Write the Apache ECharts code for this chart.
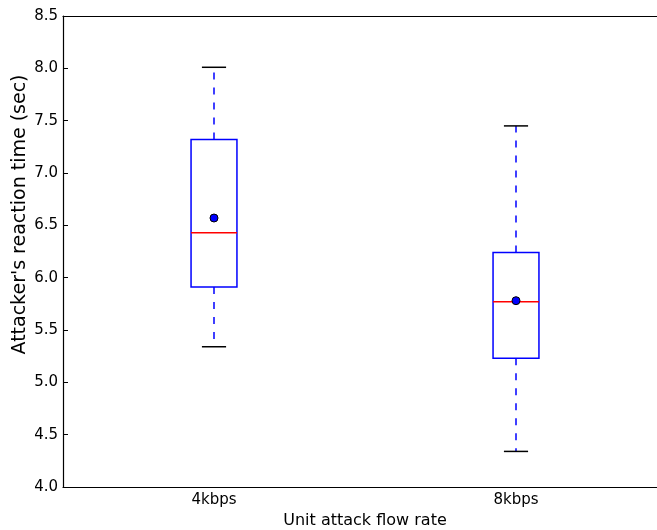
<!DOCTYPE html>
<html>
<head>
<meta charset="utf-8">
<script src="https://cdn.jsdelivr.net/npm/echarts@6/dist/echarts.min.js"></script>
<style>
  html, body { margin: 0; padding: 0; background: #fff; }
  #main { width: 657px; height: 530px; }
</style>
</head>
<body>
<div id="main"></div>
<script>
// box plot data
const categories = ['4kbps', '8kbps'];
const whiskerLow = [5.34, 4.34];
const q1 = [5.91, 5.23];
const median = [6.43, 5.77];
const q3 = [7.32, 6.24];
const whiskerHigh = [8.01, 7.45];
const means = [6.57, 5.78];
const yTicks = [4.0, 4.5, 5.0, 5.5, 6.0, 6.5, 7.0, 7.5, 8.0, 8.5];

const boxData = categories.map((c, i) => [i, whiskerLow[i], q1[i], median[i], q3[i], whiskerHigh[i]]);
const meanData = categories.map((c, i) => [i, means[i]]);

const font = 'DejaVu Sans';

function renderBox(params, api) {
	const x = api.value(0);
	const band = api.size([1, 0])[0];
	const bw = band * 0.076;
	const cw = band * 0.04;
	const pLow = api.coord([x, api.value(1)]);
	const pQ1 = api.coord([x, api.value(2)]);
	const pMed = api.coord([x, api.value(3)]);
	const pQ3 = api.coord([x, api.value(4)]);
	const pHigh = api.coord([x, api.value(5)]);
	const cx = pMed[0];
	const blue = '#0000ff';
	const dash = { stroke: blue, lineWidth: 1.5, lineDash: [7, 8] };
	return {
		type: 'group',
		children: [
			{ type: 'line', shape: { x1: cx, y1: pQ3[1], x2: cx, y2: pHigh[1] }, style: dash },
			{ type: 'line', shape: { x1: cx, y1: pQ1[1], x2: cx, y2: pLow[1] }, style: dash },
			{ type: 'line', shape: { x1: cx - cw, y1: pHigh[1], x2: cx + cw, y2: pHigh[1] }, style: { stroke: '#000', lineWidth: 1.5 } },
			{ type: 'line', shape: { x1: cx - cw, y1: pLow[1], x2: cx + cw, y2: pLow[1] }, style: { stroke: '#000', lineWidth: 1.5 } },
			{ type: 'rect', shape: { x: cx - bw, y: pQ3[1], width: bw * 2, height: pQ1[1] - pQ3[1] }, style: { fill: 'none', stroke: blue, lineWidth: 1.5 } },
			{ type: 'line', shape: { x1: cx - bw, y1: pMed[1], x2: cx + bw, y2: pMed[1] }, style: { stroke: '#ff0000', lineWidth: 1.5 } }
		]
	};
}

const myCharts = echarts.init(document.querySelector('#main'));

const option = {
	animation: false,
	grid: { left: 63, top: 16, width: 604, height: 471, outerBoundsMode: 'none', containLabel: false },
	xAxis: [
		{
			type: 'category',
			data: categories,
			boundaryGap: true,
			name: 'Unit attack flow rate',
			nameLocation: 'middle',
			nameGap: 26,
			nameTextStyle: { fontFamily: font, fontSize: 16, color: '#000' },
			axisLine: { lineStyle: { color: '#000', width: 1.2 } },
			axisTick: { inside: true, length: 5, alignWithLabel: true, lineStyle: { color: '#000' } },
			axisLabel: { fontFamily: font, fontSize: 15, color: '#000', margin: 6 },
			splitLine: { show: false }
		},
		{
			type: 'category',
			data: categories,
			position: 'top',
			boundaryGap: true,
			axisLine: { lineStyle: { color: '#000', width: 1.2 } },
			axisTick: { inside: true, length: 5, alignWithLabel: true, lineStyle: { color: '#000' } },
			axisLabel: { show: false },
			splitLine: { show: false }
		}
	],
	yAxis: {
		type: 'value',
		min: yTicks[0],
		max: yTicks[yTicks.length - 1],
		interval: 0.5,
		name: "Attacker's reaction time (sec)",
		nameLocation: 'middle',
		nameGap: 33,
		nameMoveOverlap: false,
		nameTextStyle: { fontFamily: font, fontSize: 19, color: '#000', padding: [0, 0, 0, 74] },
		axisLine: { show: true, lineStyle: { color: '#000', width: 1.2 } },
		axisTick: { show: true, inside: true, length: 5, lineStyle: { color: '#000' } },
		axisLabel: { fontFamily: font, fontSize: 15, color: '#000', margin: 5, formatter: v => v.toFixed(1) },
		splitLine: { show: false }
	},
	series: [
		{
			type: 'custom',
			renderItem: renderBox,
			encode: { x: 0, y: [1, 2, 3, 4, 5] },
			data: boxData,
			z: 2
		},
		{
			type: 'scatter',
			data: meanData,
			symbol: 'circle',
			symbolSize: 8,
			itemStyle: { color: '#0000ff', borderColor: '#000', borderWidth: 1, opacity: 1 },
			z: 3
		}
	]
};

myCharts.setOption(option);
</script>
</body>
</html>
